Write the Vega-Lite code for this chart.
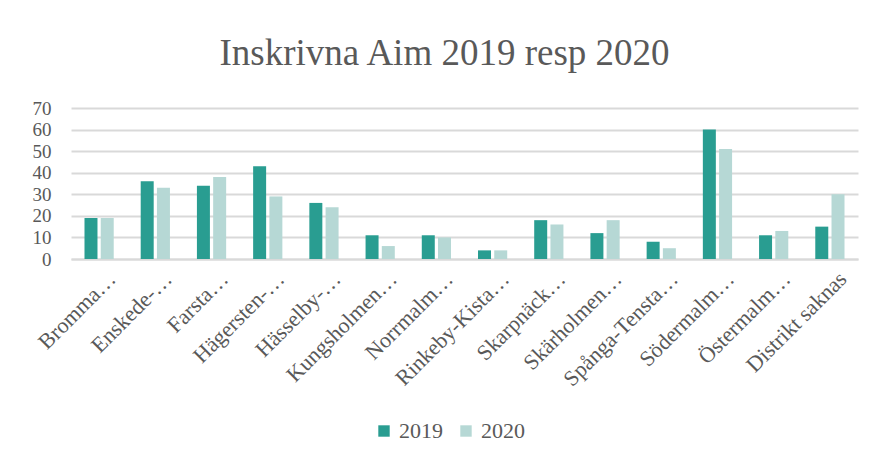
{
  "$schema": "https://vega.github.io/schema/vega-lite/v6.json",
  "autosize": {"type": "none"},
  "width": 787,
  "height": 151,
  "padding": {"left": 71, "top": 108, "right": 16, "bottom": 202},
  "background": "white",
  "title": {
    "text": "Inskrivna Aim 2019 resp 2020",
    "font": "Liberation Serif",
    "fontSize": 37,
    "fontWeight": "normal",
    "color": "#595959",
    "anchor": "middle",
    "dx": -20,
    "offset": 26
  },
  "data": {
    "values": [
      {"distrikt": "Bromma…", "ar": "2019", "antal": 19},
      {"distrikt": "Bromma…", "ar": "2020", "antal": 19},
      {"distrikt": "Enskede-…", "ar": "2019", "antal": 36},
      {"distrikt": "Enskede-…", "ar": "2020", "antal": 33},
      {"distrikt": "Farsta…", "ar": "2019", "antal": 34},
      {"distrikt": "Farsta…", "ar": "2020", "antal": 38},
      {"distrikt": "Hägersten-…", "ar": "2019", "antal": 43},
      {"distrikt": "Hägersten-…", "ar": "2020", "antal": 29},
      {"distrikt": "Hässelby-…", "ar": "2019", "antal": 26},
      {"distrikt": "Hässelby-…", "ar": "2020", "antal": 24},
      {"distrikt": "Kungsholmen…", "ar": "2019", "antal": 11},
      {"distrikt": "Kungsholmen…", "ar": "2020", "antal": 6},
      {"distrikt": "Norrmalm…", "ar": "2019", "antal": 11},
      {"distrikt": "Norrmalm…", "ar": "2020", "antal": 10},
      {"distrikt": "Rinkeby-Kista…", "ar": "2019", "antal": 4},
      {"distrikt": "Rinkeby-Kista…", "ar": "2020", "antal": 4},
      {"distrikt": "Skarpnäck…", "ar": "2019", "antal": 18},
      {"distrikt": "Skarpnäck…", "ar": "2020", "antal": 16},
      {"distrikt": "Skärholmen…", "ar": "2019", "antal": 12},
      {"distrikt": "Skärholmen…", "ar": "2020", "antal": 18},
      {"distrikt": "Spånga-Tensta…", "ar": "2019", "antal": 8},
      {"distrikt": "Spånga-Tensta…", "ar": "2020", "antal": 5},
      {"distrikt": "Södermalm…", "ar": "2019", "antal": 60},
      {"distrikt": "Södermalm…", "ar": "2020", "antal": 51},
      {"distrikt": "Östermalm…", "ar": "2019", "antal": 11},
      {"distrikt": "Östermalm…", "ar": "2020", "antal": 13},
      {"distrikt": "Distrikt saknas", "ar": "2019", "antal": 15},
      {"distrikt": "Distrikt saknas", "ar": "2020", "antal": 30}
    ]
  },
  "mark": {"type": "bar"},
  "encoding": {
    "x": {
      "field": "distrikt",
      "type": "nominal",
      "sort": null,
      "scale": {"paddingInner": 0.48, "paddingOuter": 0.24},
      "axis": {
        "title": null,
        "labelAngle": -45,
        "labelAlign": "right",
        "labelBaseline": "top",
        "labelOffset": 6,
        "labelPadding": 9,
        "labelFont": "Liberation Serif",
        "labelFontSize": 22,
        "labelColor": "#595959",
        "labelLimit": 300,
        "labelOverlap": false,
        "ticks": false,
        "domain": true,
        "domainColor": "#D9D9D9",
        "domainWidth": 2
      }
    },
    "xOffset": {
      "field": "ar",
      "type": "nominal",
      "scale": {"paddingInner": 0.2, "paddingOuter": 0}
    },
    "y": {
      "field": "antal",
      "type": "quantitative",
      "scale": {"domain": [0, 70], "nice": false},
      "axis": {
        "title": null,
        "values": [0, 10, 20, 30, 40, 50, 60, 70],
        "labelFont": "Liberation Serif",
        "labelFontSize": 19,
        "labelColor": "#595959",
        "labelPadding": 20,
        "ticks": false,
        "domain": false,
        "gridColor": "#D9D9D9",
        "gridWidth": 2
      }
    },
    "color": {
      "field": "ar",
      "type": "nominal",
      "scale": {"domain": ["2019", "2020"], "range": ["#299D91", "#B6D8D5"]},
      "legend": {
        "title": null,
        "orient": "none",
        "direction": "horizontal",
        "legendX": 302,
        "legendY": 312,
        "symbolType": "square",
        "symbolSize": 130,
        "symbolStrokeWidth": 0,
        "labelFont": "Liberation Serif",
        "labelFontSize": 22,
        "labelColor": "#595959",
        "columnPadding": 12
      }
    }
  },
  "config": {"view": {"stroke": null}}
}
